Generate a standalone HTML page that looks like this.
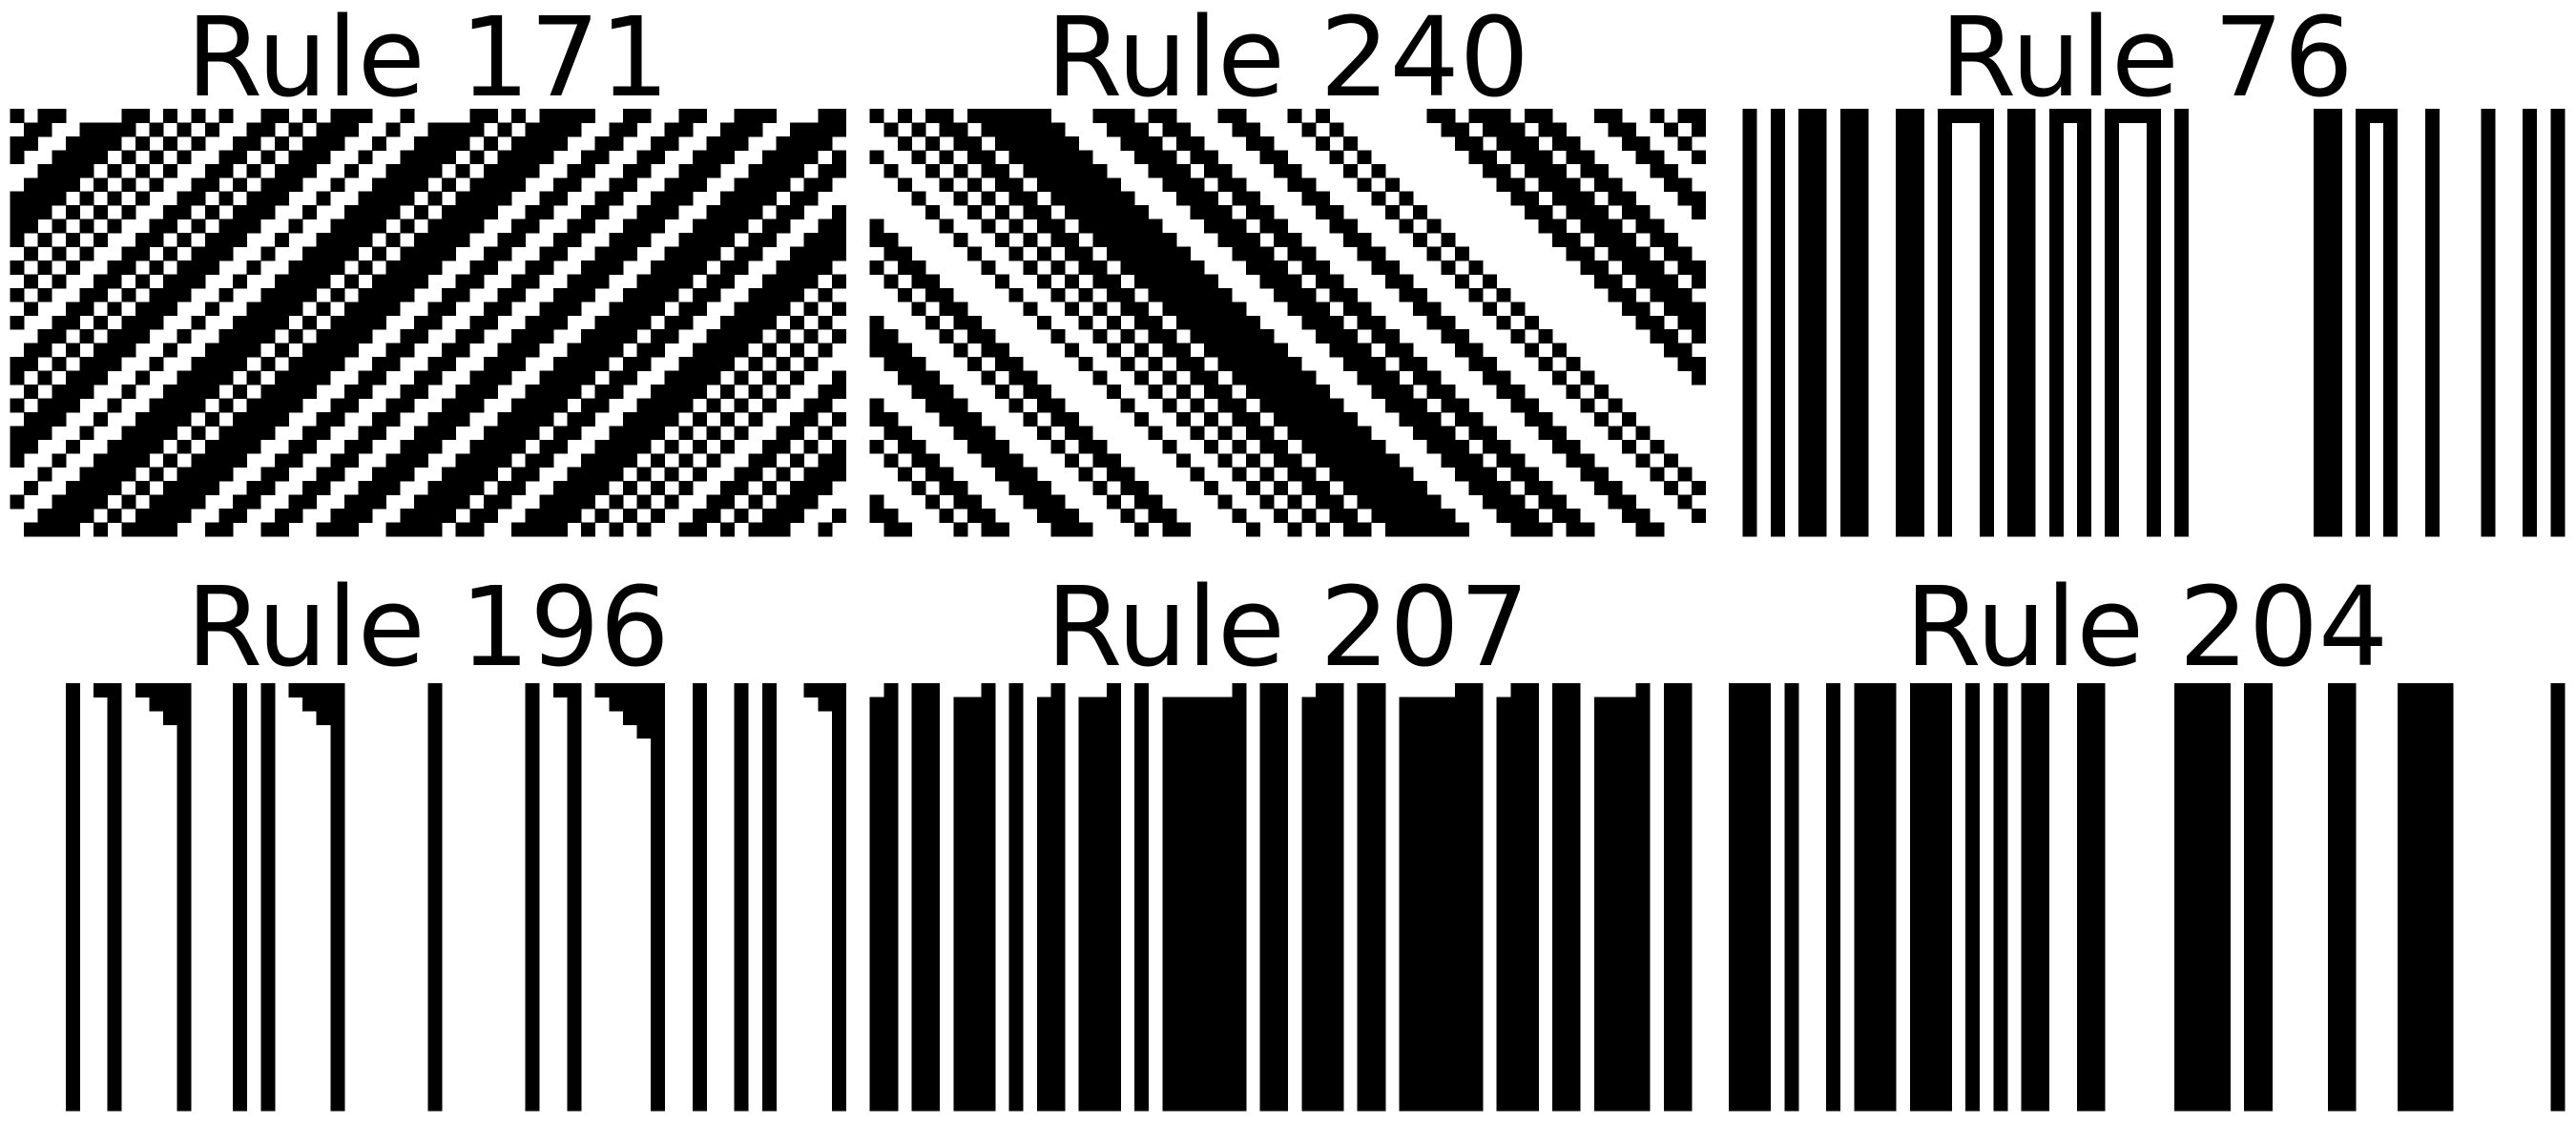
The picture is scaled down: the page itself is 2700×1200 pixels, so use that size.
<!DOCTYPE html>
<html><head><meta charset="utf-8"><style>
html,body{margin:0;padding:0;background:#fff;}
svg{display:block;}
text{font-family:"DejaVu Sans","Liberation Sans",sans-serif;font-size:115px;fill:#000;}
</style></head>
<body>
<svg id="fig" width="2700" height="1200" viewBox="0 0 2700 1200" xmlns="http://www.w3.org/2000/svg" shape-rendering="crispEdges">
<rect x="0" y="0" width="2700" height="1200" fill="#fff"/>
</svg>
<script>
const ruleNumbers = [171, 240, 76, 196, 207, 204];
const init171 = [0,2,3,8,9,11,13,15,18,19,21,23,24,25,28,33,34,36,38,39,40,41,44,45,48,49,52,53,54,58,59];
const init240 = [0,2,4,5,7,8,9,10,11,12,16,17,18,20,21,25,26,30,32,40,41,43,44,45,47,48,52,53,56,58,59,
                 61,62,66,68,69,73,74,75,79,81,82,87];
const init76  = [1,3,5,6,8,9,12,13,15,16,17,18,20,21,23,24,25,27,28,29,30,32,42,43,45,46,47,50,54,57,59];
const init196 = [4,6,7,9,10,11,12,16,18,20,21,22,23,30,37,39,40,42,43,44,45,46,49,52,54,57,58,59];
const init207 = [1,3,4,8,10,13,17,19,26,28,29,32,33,35,36,42,43,46,47,49,50,55,57,58];
const init204 = [0,1,2,4,7,9,10,11,13,14,15,17,19,21,22,25,26,32,33,34,35,37,38,43,44,48,49,50,51,59];
const initialRows = [init171, init240, init76, init196, init207, init204];
const ringSizes = [60, 90, 60, 60, 60, 60];
const numCells = 60;
const numSteps = 31;

const svg = document.getElementById('fig');
const NS = 'http://www.w3.org/2000/svg';
const panelX = [10.5, 911.7, 1812];
const panelY = [114, 716];
const titleY = [100, 697];
const cellW = 14.6, cellH = 14.45;

function simulate(rule, ones, n) {
  let row = new Array(n).fill(0);
  ones.forEach(i => row[i] = 1);
  const rows = [row];
  for (let t = 1; t < numSteps; t++) {
    const nr = [];
    for (let i = 0; i < n; i++) {
      const l = row[(i - 1 + n) % n], c = row[i], r = row[(i + 1) % n];
      nr.push((rule >> (l * 4 + c * 2 + r)) & 1);
    }
    rows.push(nr); row = nr;
  }
  return rows;
}

ruleNumbers.forEach((rule, p) => {
  const x0 = panelX[p % 3], y0 = panelY[Math.floor(p / 3)];
  const g = document.createElementNS(NS, 'g');
  
  
  svg.appendChild(g);
  const title = document.createElementNS(NS, 'text');
  
  
  title.setAttribute('x', x0 + numCells * cellW / 2);
  title.setAttribute('y', titleY[Math.floor(p / 3)]);
  title.setAttribute('text-anchor', 'middle');
  title.textContent = 'Rule ' + rule;
  g.appendChild(title);
  const rows = simulate(rule, initialRows[p], ringSizes[p]);
  rows.forEach((row, t) => {
    for (let i = 0; i < numCells; i++) {
      if (!row[i]) continue;
      const rc = document.createElementNS(NS, 'rect');
      
      
      rc.setAttribute('x', (x0 + i * cellW).toFixed(2));
      rc.setAttribute('y', (y0 + t * cellH).toFixed(2));
      rc.setAttribute('width', (cellW + 0.4).toFixed(2));
      rc.setAttribute('height', (cellH + 0.4).toFixed(2));
      rc.setAttribute('fill', '#000');
      g.appendChild(rc);
    }
  });
});
</script>
</body></html>
